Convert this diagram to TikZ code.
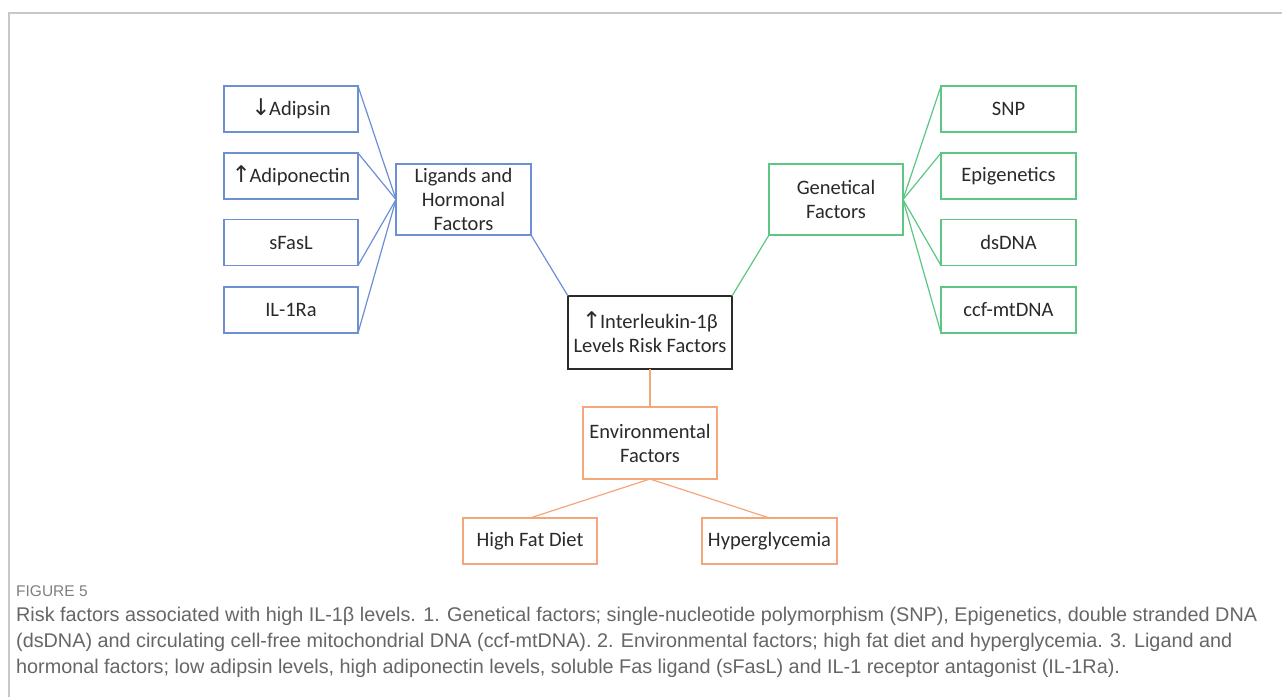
\documentclass[tikz,border=0pt]{standalone}
\usepackage{fontspec}
\setmainfont{Carlito}
\newfontfamily\arrowfont{DejaVu Sans}
\newfontfamily\capfont{Liberation Sans}
\definecolor{cblue}{HTML}{6C8FD6}
\definecolor{cgreen}{HTML}{5DC682}
\definecolor{corange}{HTML}{F4A77A}
\definecolor{ctext}{HTML}{2A2A2A}
\definecolor{cframe}{HTML}{C8C8C8}
\definecolor{ccap}{HTML}{666666}
\newcommand{\upar}{{\arrowfont\fontsize{23}{23}\selectfont ↑}\kern-1.5pt}
\newcommand{\dnar}{{\arrowfont\fontsize{23}{23}\selectfont ↓}\kern-1.5pt}
\begin{document}
\begin{tikzpicture}[x=1pt,y=-1pt,
  box/.style={draw,line width=1.3pt,outer sep=0pt,inner sep=0pt,align=center,
    text=ctext,font=\fontsize{20.5}{24}\selectfont},
  small/.style={box,minimum width=134pt,minimum height=46pt},
  big/.style={box,minimum width=134pt,minimum height=71pt},
  bl/.style={draw=cblue},gr/.style={draw=cgreen},orc/.style={draw=corange},
  link/.style={line width=1.2pt},
  captext/.style={anchor=west,inner sep=0pt,text=ccap,font=\capfont\fontsize{19.8}{19.8}\selectfont}]
\useasboundingbox (0,0) rectangle (1282,697);
\fill[white] (0,0) rectangle (1282,697);
\draw[cframe,line width=1.5pt] (9,697) coordinate (fl) -- (9,13) coordinate (fc) -- (1282,13) coordinate (fr);
% left (blue)
\node[small,bl] (adipsin) at (291,109) {\dnar Adipsin};
\node[small,bl] (adipo) at (291,176) {\upar Adiponectin};
\node[small,bl] (sfasl) at (291,242.5) {sFasL};
\node[small,bl] (ilra) at (291,310) {IL-1Ra};
\node[big,bl,minimum width=135pt] (lig) at (463.5,199.5) {Ligands and\\Hormonal\\Factors};
% center
\node[box,draw=ctext,minimum width=164pt,minimum height=73pt] (ctr) at (650,332.5) {\upar Interleukin-1β\\Levels Risk Factors};
% right (green)
\node[big,gr] (gen) at (836,199.5) {Genetical\\Factors};
\node[small,gr,minimum width=135pt] (snp) at (1008.5,109) {SNP};
\node[small,gr,minimum width=135pt] (epi) at (1008.5,176) {Epigenetics};
\node[small,gr,minimum width=135pt] (ds) at (1008.5,242.5) {dsDNA};
\node[small,gr,minimum width=135pt] (ccf) at (1008.5,310) {ccf-mtDNA};
% bottom (orange)
\node[big,orc,minimum height=72pt] (env) at (650,443) {Environmental\\Factors};
\node[small,orc] (hfd) at (530,541) {High Fat Diet};
\node[small,orc,minimum width=135pt] (hyp) at (769.5,541) {Hyperglycemia};
% connectors
\draw[link,cblue] (adipsin.north east) -- (lig.west);
\draw[link,cblue] (adipo.north east) -- (lig.west);
\draw[link,cblue] (sfasl.south east) -- (lig.west);
\draw[link,cblue] (ilra.south east) -- (lig.west);
\draw[link,cblue] (lig.south east) -- (ctr.north west);
\draw[link,cgreen] (gen.east) -- (snp.north west);
\draw[link,cgreen] (gen.east) -- (epi.north west);
\draw[link,cgreen] (gen.east) -- (ds.south west);
\draw[link,cgreen] (gen.east) -- (ccf.south west);
\draw[link,cgreen] (gen.south west) -- (ctr.north east);
\draw[link,corange] (ctr.south) -- (env.north);
\draw[link,corange] (env.south) -- (hfd.north);
\draw[link,corange] (env.south) -- (hyp.north);
% caption
\node[anchor=west,inner sep=0pt,text=gray,font=\capfont\fontsize{15.5}{15.5}\selectfont] (fig) at (16,591) {FIGURE 5};
\node[captext] (c1) at (16,616) {Risk factors associated with high IL-1β levels. 1. Genetical factors; single-nucleotide polymorphism (SNP), Epigenetics, double stranded DNA};
\node[captext] (c2) at (16,642) {(dsDNA) and circulating cell-free mitochondrial DNA (ccf-mtDNA). 2. Environmental factors; high fat diet and hyperglycemia. 3. Ligand and};
\node[captext] (c3) at (16,668) {hormonal factors; low adipsin levels, high adiponectin levels, soluble Fas ligand (sFasL) and IL-1 receptor antagonist (IL-1Ra).};
\end{tikzpicture}
\end{document}
